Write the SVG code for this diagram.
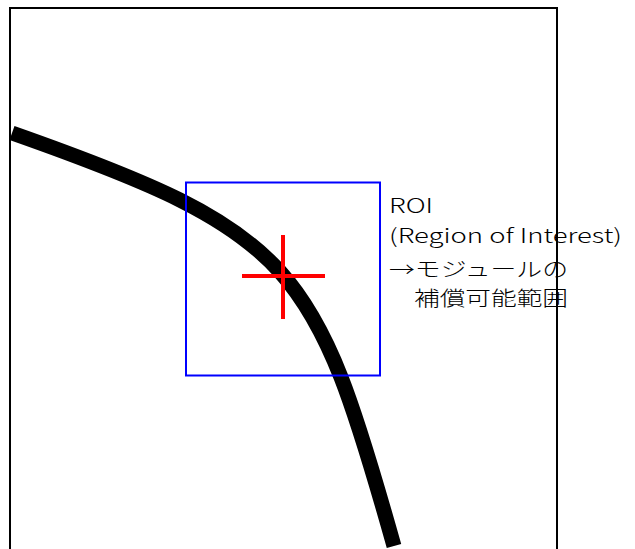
<svg xmlns="http://www.w3.org/2000/svg" width="635" height="549" viewBox="0 0 635 549">
<style>
.t{font-family:"Noto Sans CJK JP","Noto Sans",sans-serif;font-size:20px;fill:#000;font-weight:300}
</style>
<rect x="0" y="0" width="635" height="549" fill="#fff"/>
<g id="frame"><rect x="10" y="8" width="547" height="560" fill="none" stroke="#000" stroke-width="2"/></g>
<g id="curve"><path d="M12,133 C296,233 315,265 394,546" fill="none" stroke="#000" stroke-width="15"/></g>
<g id="roi"><rect x="186" y="182.5" width="194" height="193" fill="none" stroke="#00f" stroke-width="2"/></g>
<g id="cross">
<line x1="283" y1="235" x2="283" y2="319" stroke="#f00" stroke-width="4"/>
<line x1="242" y1="276" x2="325" y2="276" stroke="#f00" stroke-width="4"/>
</g>
<g id="label">
<text class="t" x="389" y="213" textLength="44" lengthAdjust="spacingAndGlyphs">ROI</text>
<text class="t" x="389" y="243" textLength="233" lengthAdjust="spacingAndGlyphs">(Region of Interest)</text>
<text class="t" x="389" y="277" textLength="179" lengthAdjust="spacingAndGlyphs">→モジュールの</text>
<text class="t" x="414" y="306" textLength="154" lengthAdjust="spacingAndGlyphs">補償可能範囲</text>
</g>
</svg>
